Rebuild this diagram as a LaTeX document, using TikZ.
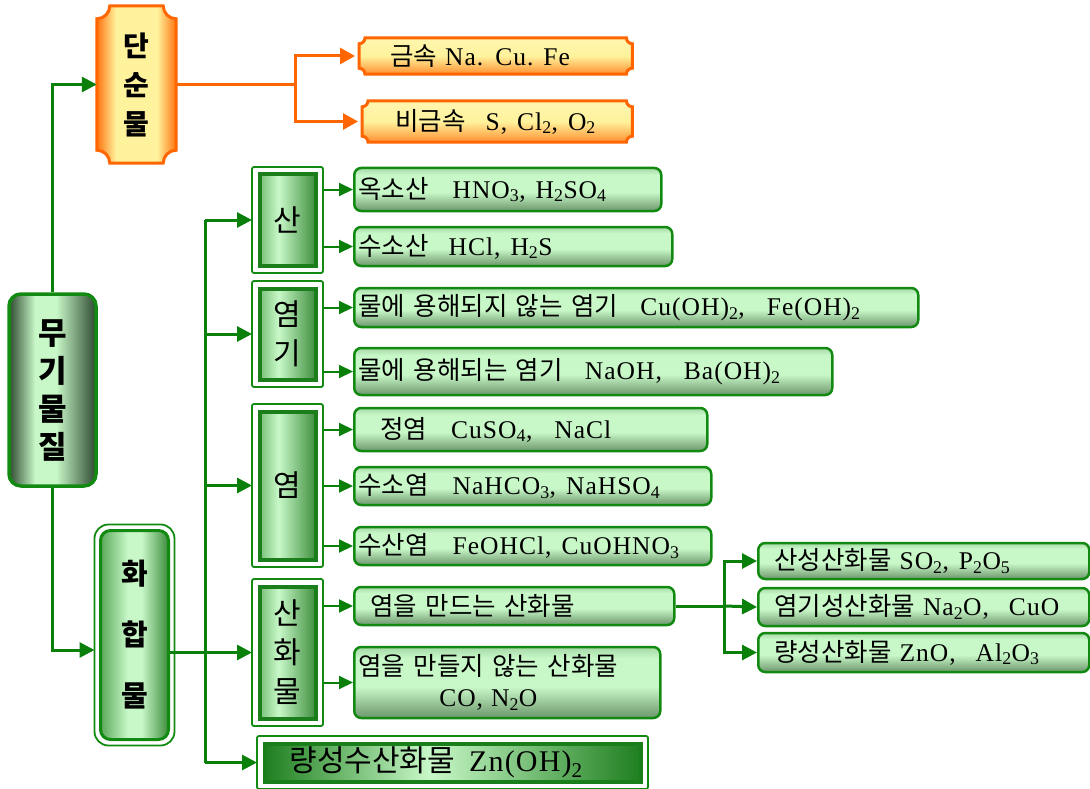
\documentclass[tikz,border=0pt]{standalone}
\usepackage{fontspec}
\setmainfont{Liberation Serif}[LetterSpace=4]
\newfontfamily\cjk{Noto Sans CJK KR}[WordSpace=3]
\usetikzlibrary{arrows.meta,backgrounds}
\newcommand\K[1]{{\cjk #1}}
\newcommand\lsub[1]{\textsubscript{#1}}
\definecolor{gln}{HTML}{0A800A}
\definecolor{gbd}{HTML}{128A12}
\definecolor{cbd}{HTML}{1A7F1A}
\definecolor{orn}{HTML}{FF6600}
\definecolor{lgt}{HTML}{C8F8C8}
\definecolor{mkdark}{HTML}{2F4A30}
\definecolor{hwa}{HTML}{5AA85A}
\definecolor{hwb}{HTML}{3C8C3C}
\definecolor{cta}{HTML}{78C078}
\definecolor{ctb}{HTML}{3F8F3F}
\definecolor{bta}{HTML}{1F7F1F}
\definecolor{lfa}{HTML}{6C966C}
\definecolor{lfb}{HTML}{A6D8A6}
\definecolor{ora}{HTML}{FF7410}
\definecolor{orb}{HTML}{FFF29C}
\definecolor{orc}{HTML}{FF9030}
\definecolor{ord}{HTML}{FFF6B0}
\pgfdeclarehorizontalshading{mukish}{100bp}{color(0bp)=(mkdark); color(25bp)=(mkdark); color(40bp)=(lgt); color(52bp)=(lgt); color(75bp)=(mkdark); color(100bp)=(mkdark)}
\pgfdeclarehorizontalshading{hwash}{100bp}{color(0bp)=(hwa); color(25bp)=(hwa); color(45bp)=(lgt); color(55bp)=(lgt); color(75bp)=(hwb); color(100bp)=(hwb)}
\pgfdeclarehorizontalshading{catsh}{100bp}{color(0bp)=(cta); color(25bp)=(cta); color(42bp)=(lgt); color(75bp)=(ctb); color(100bp)=(ctb)}
\pgfdeclarehorizontalshading{botsh}{100bp}{color(0bp)=(bta); color(25bp)=(bta); color(47bp)=(lgt); color(75bp)=(bta); color(100bp)=(bta)}
\pgfdeclareverticalshading{leafsh}{100bp}{color(0bp)=(lfa); color(25bp)=(lfa); color(47bp)=(lgt); color(67bp)=(lgt); color(75bp)=(lfb); color(100bp)=(lfb)}
\pgfdeclarehorizontalshading{orsh}{100bp}{color(0bp)=(ora); color(25bp)=(ora); color(37bp)=(orb); color(63bp)=(orb); color(75bp)=(ora); color(100bp)=(ora)}
\pgfdeclareverticalshading{orvsh}{100bp}{color(0bp)=(orc); color(25bp)=(orc); color(50bp)=(orb); color(75bp)=(ord); color(100bp)=(ord)}
\newcommand\notchbox[4][obox]{%
\path[#1] ([xshift=#3pt]#2.north west) -- ([xshift=-#3pt]#2.north east)
 .. controls ([xshift=-#3pt,yshift=-#4pt]#2.north east) and ([xshift=-#4pt,yshift=-#3pt]#2.north east) .. ([yshift=-#3pt]#2.north east)
 -- ([yshift=#3pt]#2.south east)
 .. controls ([xshift=-#4pt,yshift=#3pt]#2.south east) and ([xshift=-#3pt,yshift=#4pt]#2.south east) .. ([xshift=-#3pt]#2.south east)
 -- ([xshift=#3pt]#2.south west)
 .. controls ([xshift=#3pt,yshift=#4pt]#2.south west) and ([xshift=#4pt,yshift=#3pt]#2.south west) .. ([yshift=#3pt]#2.south west)
 -- ([yshift=-#3pt]#2.north west)
 .. controls ([xshift=#4pt,yshift=-#3pt]#2.north west) and ([xshift=#3pt,yshift=-#4pt]#2.north west) .. cycle;}
\begin{document}
\begin{tikzpicture}[x=1pt,y=-1pt,
  garrow/.style={draw=gln, line width=3pt, -{Triangle[length=15pt,width=15pt]}},
  gline/.style={draw=gln, line width=3pt},
  sarrow/.style={draw=gln, line width=2pt, -{Triangle[length=14pt,width=13pt]}},
  oarrow/.style={draw=orn, line width=3pt, -{Triangle[length=15pt,width=16pt]}},
  oline/.style={draw=orn, line width=3pt},
  leaf/.style={draw=gbd, line width=2.5pt, rounded corners=7pt, shading=leafsh, anchor=west, inner xsep=4pt, inner ysep=0pt, align=left, font=\fontsize{25.5}{30}\selectfont},
  oleaf/.style={anchor=west, inner xsep=4pt, inner ysep=0pt, align=left, font=\fontsize{25.5}{30}\selectfont},
  obox/.style={draw=orn, line width=3pt, shading=orsh},
  obox2/.style={draw=orn, line width=3pt, shading=orvsh},
  cat/.style={draw=cbd, line width=4pt, shading=catsh, inner sep=0pt, align=center, font=\cjk\fontsize{30}{39}\selectfont, minimum width=56pt},
  catframe/.style={draw=gbd, line width=1.8pt, rounded corners=2pt}]
\useasboundingbox (0,0) rectangle (1090,789);
% simple substances
\node[font=\cjk\bfseries\fontsize{28}{39}\selectfont, align=center, minimum width=79pt, minimum height=157pt, inner sep=0pt] (dansun) at (136.5,84.5) {단\\순\\물};
\node[oleaf, text width=265pt, minimum height=36pt] (metal) at (359,56) {\hspace*{27pt}\K{금속}\hspace{8pt}Na.\hspace{12pt}Cu.\hspace{10pt}Fe};
\node[oleaf, text width=262pt, minimum height=41pt] (nonmetal) at (362,121.5) {\hspace*{29pt}\K{비금속}\hspace{20pt}S,\hspace{10pt}Cl\lsub{2},\hspace{10pt}O\lsub{2}};
\begin{scope}[on background layer]
\notchbox{dansun}{13}{7.2}
\notchbox[obox2]{metal}{6}{3.3}
\notchbox[obox2]{nonmetal}{6}{3.3}
\end{scope}
% root
\node[draw=gbd, line width=3.5pt, rounded corners=12pt, shading=mukish, minimum width=87pt, minimum height=192pt, inner sep=0pt, align=center, font=\cjk\bfseries\fontsize{31}{38}\selectfont] (muki) at (52.5,390) {무\\기\\물\\질};
% compounds
\node[draw=gbd, line width=3pt, rounded corners=10pt, shading=hwash, minimum width=68pt, minimum height=209pt, inner sep=0pt, align=center, font=\cjk\bfseries\fontsize{29}{61}\selectfont] (hwahap) at (134.5,635) {화\\합\\물};
\draw[catframe, rounded corners=14pt] ([xshift=-4.5pt,yshift=4.5pt]hwahap.north west) rectangle ([xshift=4.5pt,yshift=-4.5pt]hwahap.south east);
% categories
\node[cat, minimum height=91pt] (san) at (287.5,220) {산};
\node[cat, minimum height=91pt] (yeomgi) at (287.5,334) {염\\기};
\node[cat, minimum height=148pt] (yeom) at (287.5,485.5) {염};
\node[cat, minimum height=132pt] (sanhwa) at (287.5,652.5) {산\\화\\물};
\node[draw=cbd, line width=4pt, shading=botsh, minimum height=38pt, inner xsep=4pt, inner ysep=0pt, text width=368pt, align=left, font=\fontsize{30}{34}\selectfont] (bot) at (452.5,762.5) {\hspace*{21pt}\K{량성수산화물}\hspace{14pt}Zn(OH)\lsub{2}};
\foreach \n in {san,yeomgi,yeom,sanhwa,bot}
  \draw[catframe] ([xshift=-5.5pt,yshift=5.5pt]\n.north west) rectangle ([xshift=5.5pt,yshift=-5.5pt]\n.south east);
% leaves
\node[leaf, text width=299pt, minimum height=43pt] (oxo) at (353,189.5) {\K{옥소산}\hspace{24pt}HNO\lsub{3},\hspace{10pt}H\lsub{2}SO\lsub{4}};
\node[leaf, text width=310pt, minimum height=39pt] (hyd) at (353,246.5) {\K{수소산}\hspace{20pt}HCl,\hspace{10pt}H\lsub{2}S};
\node[leaf, text width=556pt, minimum height=39pt] (insol) at (353,307.5) {\K{물에 용해되지 않는 염기}\hspace{22pt}Cu(OH)\lsub{2},\hspace{22pt}Fe(OH)\lsub{2}};
\node[leaf, text width=470pt, minimum height=47pt] (sol) at (353,371.5) {\K{물에 용해되는 염기}\hspace{22pt}NaOH,\hspace{22pt}Ba(OH)\lsub{2}};
\node[leaf, text width=345pt, minimum height=43pt] (norm) at (353,429.5) {\hspace*{22pt}\K{정염}\hspace{24pt}CuSO\lsub{4},\hspace{22pt}NaCl};
\node[leaf, text width=349pt, minimum height=38pt] (acsalt) at (353,486) {\K{수소염}\hspace{24pt}NaHCO\lsub{3},\hspace{10pt}NaHSO\lsub{4}};
\node[leaf, text width=349pt, minimum height=38pt] (bssalt) at (353,546) {\K{수산염}\hspace{24pt}FeOHCl,\hspace{10pt}CuOHNO\lsub{3}};
\node[leaf, text width=312pt, minimum height=38pt] (mk) at (353,606) {\hspace*{12pt}\K{염을 만드는 산화물}};
\node[leaf, text width=298pt, minimum height=71pt] (nmk) at (353,682.5) {\K{염을 만들지 않는 산화물}\\[1pt]\hspace*{81pt}CO,\hspace{8pt}N\lsub{2}O};
\node[leaf, text width=323pt, minimum height=36pt] (acox) at (757,561) {\hspace*{12pt}\K{산성산화물}\hspace{8pt}SO\lsub{2},\hspace{10pt}P\lsub{2}O\lsub{5}};
\node[leaf, text width=323pt, minimum height=38pt] (bsox) at (757,607) {\hspace*{12pt}\K{염기성산화물}\hspace{8pt}Na\lsub{2}O,\hspace{20pt}CuO};
\node[leaf, text width=323pt, minimum height=39pt] (amox) at (757,652.5) {\hspace*{12pt}\K{량성산화물}\hspace{8pt}ZnO,\hspace{20pt}Al\lsub{2}O\lsub{3}};
% helper coordinates
\coordinate (tr) at (205,0);
\coordinate (ob) at (295,0);
\coordinate (xb) at (724,0);
\foreach \n in {san,yeomgi,yeom,sanhwa}
  \coordinate (\n-R) at ([xshift=5.5pt]\n.east);
% connectors
\draw[garrow] (muki.north) |- (dansun.west);
\coordinate (hwL) at ([xshift=-4.5pt,yshift=-15pt]hwahap.west);
\draw[garrow] (muki.south) |- (hwL);
\draw[oline] (dansun.east) -- (ob |- dansun.east);
\coordinate (metalL) at ([xshift=-4pt]metal.west);
\coordinate (nonmetalL) at ([xshift=-4pt]nonmetal.west);
\draw[oarrow] (ob |- dansun.east) |- (metalL);
\draw[oarrow] (ob |- dansun.east) |- (nonmetalL);
\draw[gline] (tr |- san.west) -- (tr |- bot.west);
\draw[gline] (hwahap.east |- sanhwa.west) -- (tr |- sanhwa.west);
\foreach \n in {san,yeomgi,yeom,sanhwa,bot}
  \draw[garrow] (tr |- \n.west) -- ([xshift=-5.5pt]\n.west);
\draw[sarrow] (san-R |- oxo.west) -- (oxo.west);
\draw[sarrow] (san-R |- hyd.west) -- (hyd.west);
\draw[sarrow] (yeomgi-R |- insol.west) -- (insol.west);
\draw[sarrow] (yeomgi-R |- sol.west) -- (sol.west);
\draw[sarrow] (yeom-R |- norm.west) -- (norm.west);
\draw[sarrow] (yeom-R |- acsalt.west) -- (acsalt.west);
\draw[sarrow] (yeom-R |- bssalt.west) -- (bssalt.west);
\draw[sarrow] (sanhwa-R |- mk.west) -- (mk.west);
\draw[sarrow] (sanhwa-R |- nmk.west) -- (nmk.west);
\draw[gline] (mk.east) -- (xb |- mk.east);
\draw[garrow] (xb |- mk.east) |- (acox.west);
\draw[garrow] (xb |- mk.east) -- (bsox.west);
\draw[garrow] (xb |- mk.east) |- (amox.west);
\end{tikzpicture}
\end{document}
